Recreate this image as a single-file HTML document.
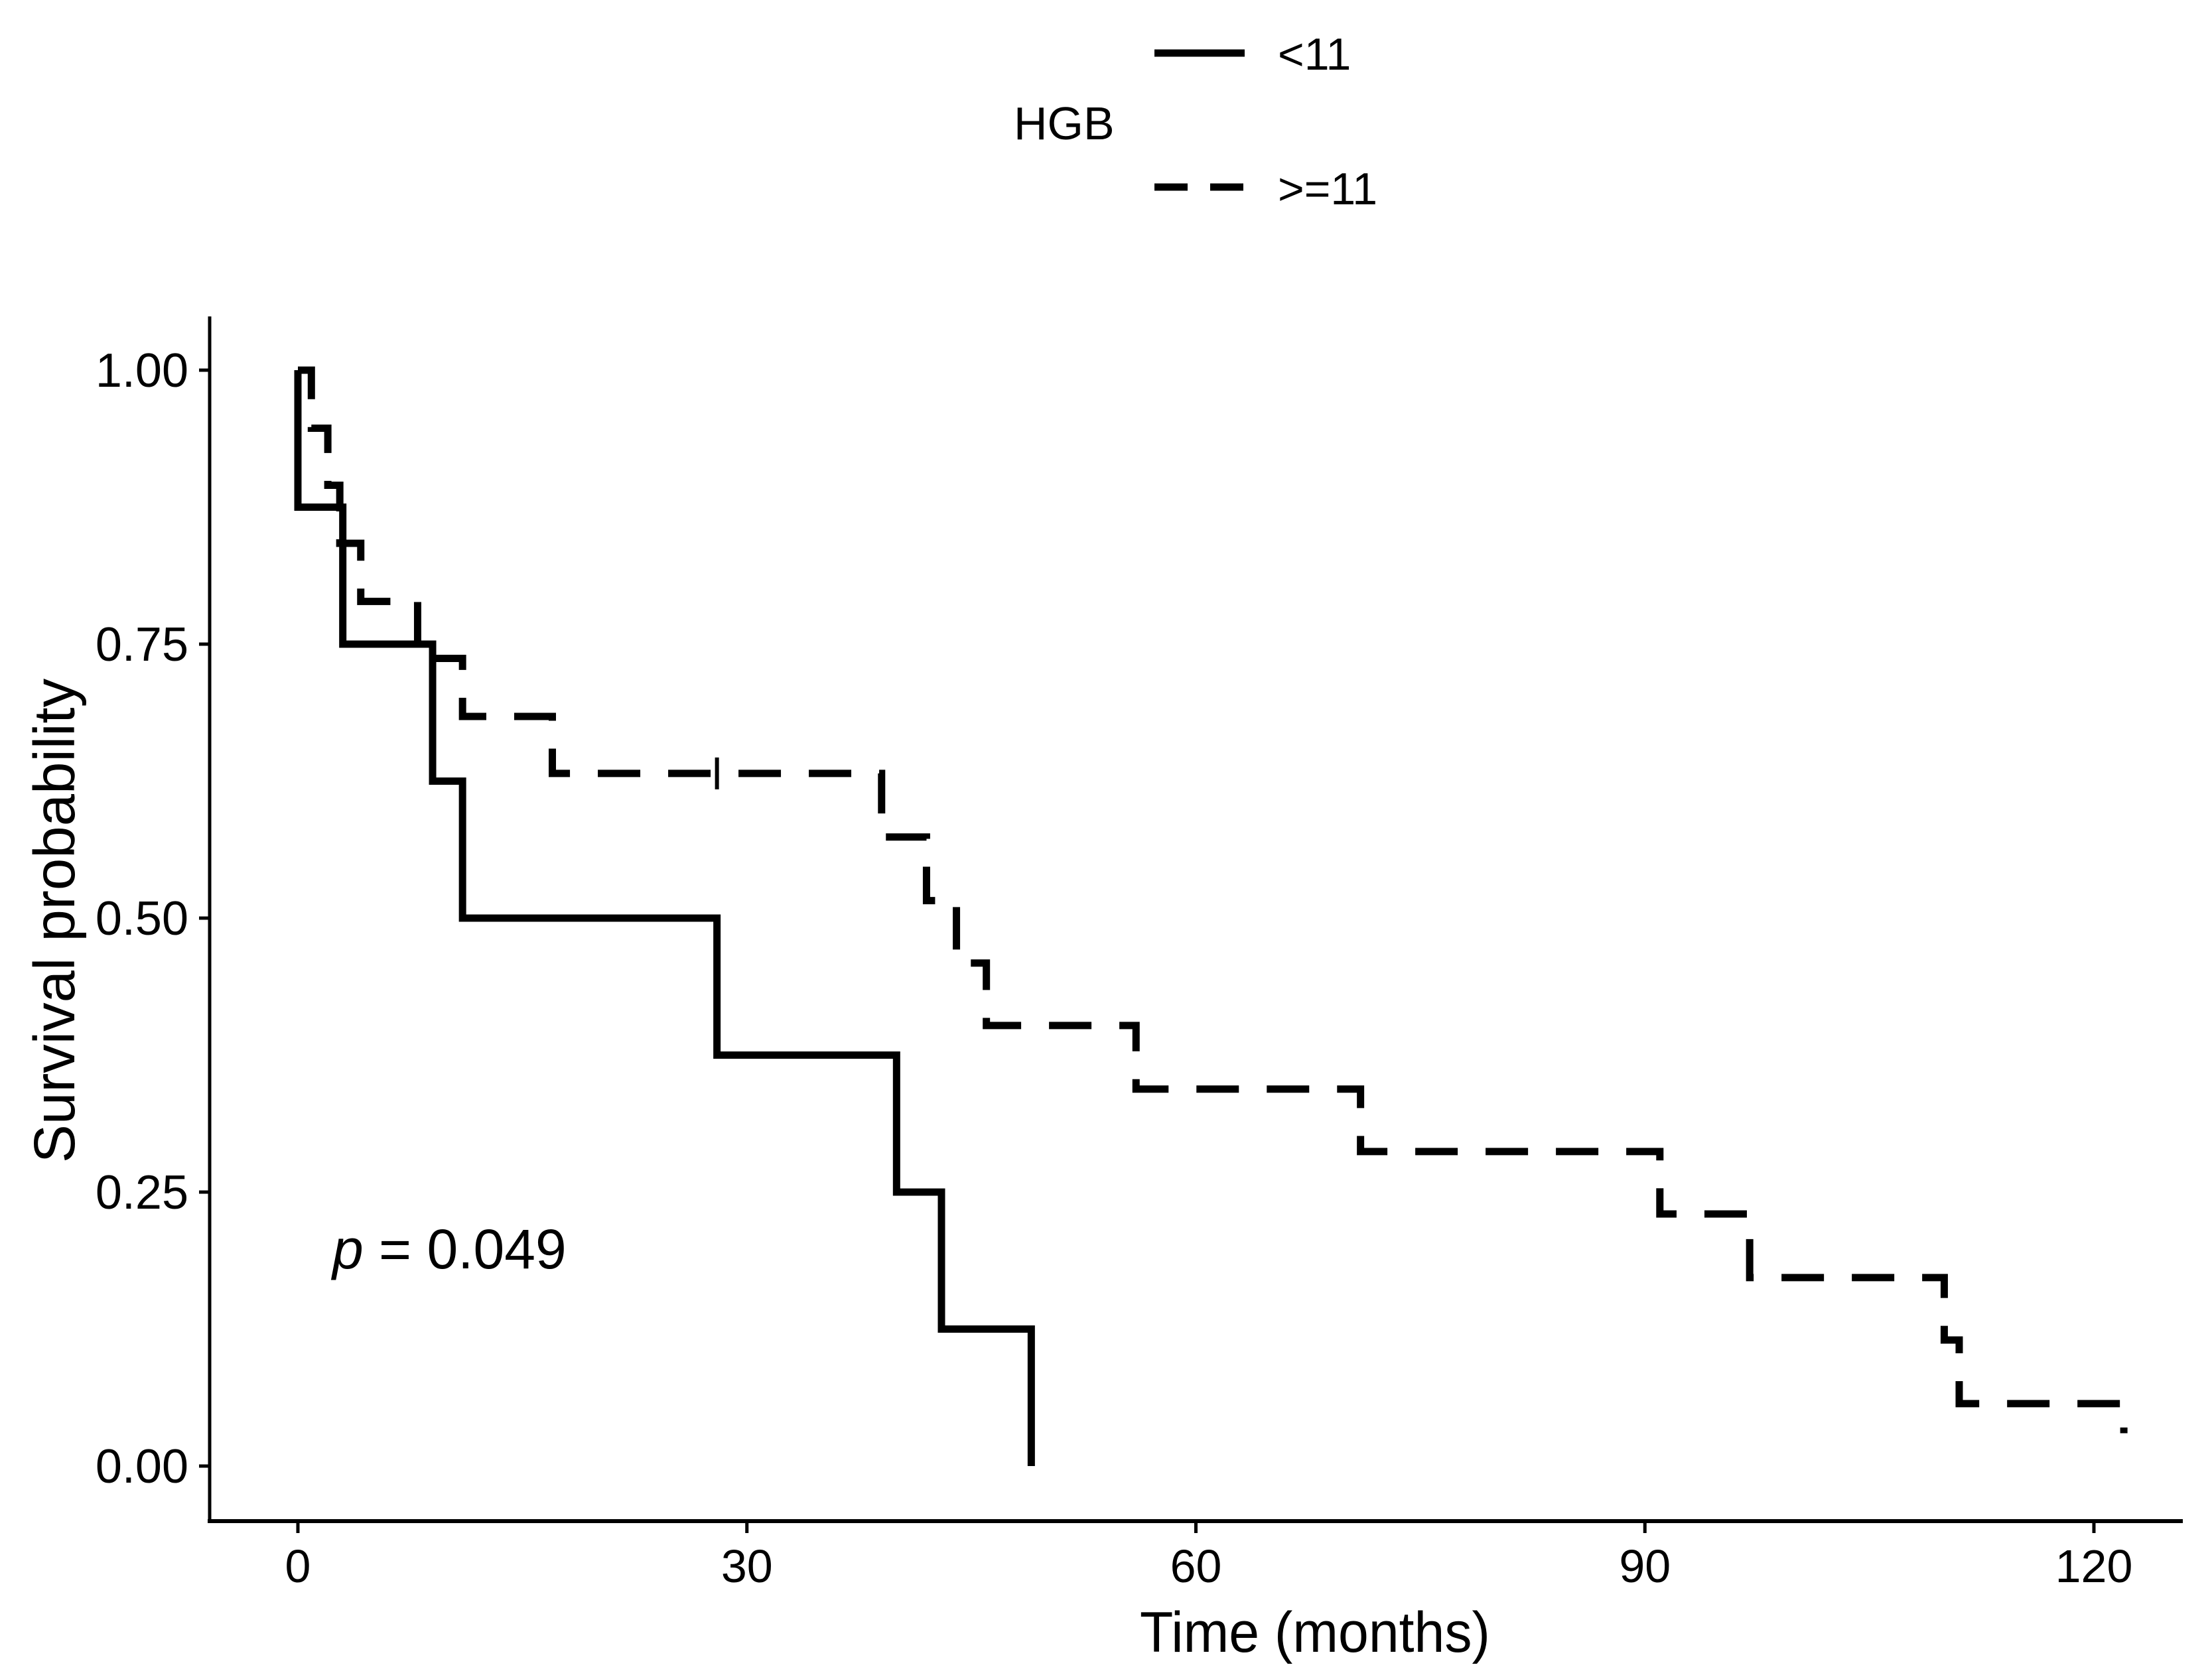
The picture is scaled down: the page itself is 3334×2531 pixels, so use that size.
<!DOCTYPE html>
<html><head><meta charset="utf-8"><style>
html,body{margin:0;padding:0;background:#fff;}
svg{display:block;font-family:"Liberation Sans",Arial,sans-serif;}
</style></head><body>
<svg id="chart" width="3334" height="2531" viewBox="0 0 3334 2531" xmlns="http://www.w3.org/2000/svg">
<g>
  <text x="1528" y="210" font-size="70">HGB</text>
  <line x1="1740" y1="80" x2="1876" y2="80" stroke="#000" stroke-width="11"/>
  <text x="1926" y="105" font-size="68">&lt;11</text>
  <line x1="1740" y1="282" x2="1876" y2="282" stroke="#000" stroke-width="11" stroke-dasharray="50,34"/>
  <text x="1926" y="308" font-size="68">&gt;=11</text>
</g>
<g id="axes"></g>
<g id="series"></g>
<text x="501" y="1912" font-size="84"><tspan font-style="italic">p</tspan> = 0.049</text>
<text x="1982" y="2490" font-size="86" text-anchor="middle" textLength="528" lengthAdjust="spacingAndGlyphs">Time (months)</text>
<text transform="translate(112,1388) rotate(-90)" font-size="87" text-anchor="middle">Survival probability</text>
</svg>
<script>
const xTicks = [0, 30, 60, 90, 120];
const yTicks = [0, 0.25, 0.5, 0.75, 1.0];
const yTickLabels = ["0.00", "0.25", "0.50", "0.75", "1.00"];
const lowTimes = [0, 0, 3, 9, 11, 28, 40, 43, 49];
const lowSurv = [1.0, 0.875, 0.75, 0.625, 0.5, 0.375, 0.25, 0.125, 0.0];
const highTimes = [0, 0.9, 2.0, 2.8, 4.2, 8, 11, 17, 39, 42, 44, 46, 56, 71, 91, 97, 110, 111, 122];
const highSurv = [1.0, 0.947, 0.895, 0.842, 0.789, 0.737, 0.684, 0.632, 0.574, 0.516, 0.459, 0.402, 0.344, 0.287, 0.230, 0.172, 0.115, 0.057, 0.03];
const highCensorTimes = [28];
const highCensorSurv = [0.632];

const NS = "http://www.w3.org/2000/svg";
const X = t => 449 + t * (3156 - 449) / 120;
const Y = s => 2210 - s * (2210 - 558);
function mk(tag, attrs, parent) {
  const e = document.createElementNS(NS, tag);
  for (const k in attrs) e.setAttribute(k, attrs[k]);
  parent.appendChild(e);
  return e;
}
const axes = document.getElementById("axes");
const series = document.getElementById("series");
let e;
e = mk("line", {x1: 316, y1: 477, x2: 316, y2: 2296, stroke: "#000", "stroke-width": 5}, axes);


e = mk("line", {x1: 313, y1: 2293, x2: 3290, y2: 2293, stroke: "#000", "stroke-width": 6}, axes);


xTicks.forEach(t => {
  let l = mk("line", {x1: X(t), y1: 2293, x2: X(t), y2: 2311, stroke: "#000", "stroke-width": 5}, axes);
  
  
  let tx = mk("text", {x: X(t), y: 2385, "font-size": 70, "text-anchor": "middle"}, axes);
  tx.textContent = String(t);
  
  
});
yTicks.forEach((s, i) => {
  let l = mk("line", {x1: 300, y1: Y(s), x2: 316, y2: Y(s), stroke: "#000", "stroke-width": 5}, axes);
  
  
  let tx = mk("text", {x: 284, y: Y(s) + 25, "font-size": 72, "text-anchor": "end"}, axes);
  tx.textContent = yTickLabels[i];
  
  
});
function stepPath(times, surv) {
  let d = "M" + X(times[0]) + "," + Y(surv[0]);
  for (let i = 1; i < times.length; i++) {
    d += " H" + X(times[i]) + " V" + Y(surv[i]);
  }
  return d;
}
e = mk("path", {d: stepPath(lowTimes, lowSurv), fill: "none", stroke: "#000", "stroke-width": 11}, series);


e = mk("path", {d: stepPath(highTimes, highSurv), fill: "none", stroke: "#000", "stroke-width": 11, "stroke-dasharray": "64,42"}, series);


highCensorTimes.forEach((t, i) => {
  let c = mk("line", {x1: X(t), y1: Y(highCensorSurv[i]) - 24, x2: X(t), y2: Y(highCensorSurv[i]) + 24, stroke: "#000", "stroke-width": 6}, series);
  
  
});
</script>
</body></html>
